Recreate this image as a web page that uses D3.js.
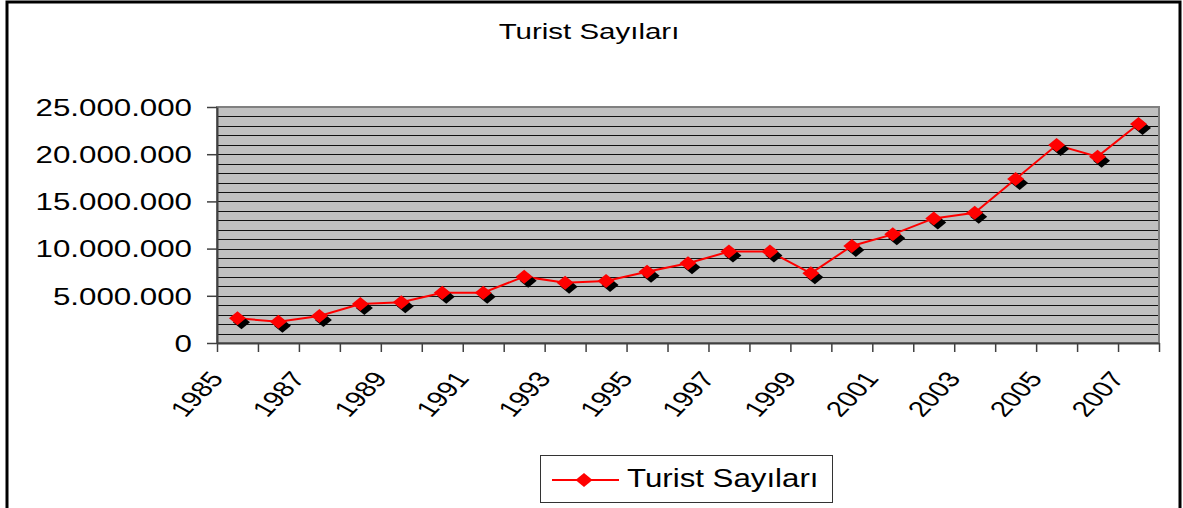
<!DOCTYPE html>
<html>
<head>
<meta charset="utf-8">
<script src="https://cdn.jsdelivr.net/npm/d3@7"></script>
<style>
  body { margin: 0; background: #fff; }
  svg { display: block; }
  text { font-family: "Liberation Sans", Arial, sans-serif; fill: #000; }
</style>
</head>
<body>
<svg width="1183" height="508"></svg>
<script>
// Chart data
var years = d3.range(1985, 2008);
var tourists = [2620000, 2260000, 2860000, 4130000, 4310000, 5330000, 5330000,
    7030000, 6390000, 6570000, 7550000, 8440000, 9680000, 9680000, 7380000,
    10280000, 11510000, 13200000, 13800000, 17370000, 20970000, 19740000, 23200000];
var yTicks = [0, 5000000, 10000000, 15000000, 20000000, 25000000];
var labelYears = years.filter(function (d) { return (d - 1985) % 2 === 0; });
var seriesName = "Turist Sayıları";
var titleText = "Turist Sayıları";

// Layout
var plotLeft = 217, plotRight = 1159, plotTop = 107, plotBottom = 343;
var stretch = 1.34;

var svg = d3.select("svg");

// outer frame (bottom is cut off in the original)
svg.append("path")
    .attr("d", "M 7,508 L 7,2 L 1180,2 L 1180,508")
    .attr("fill", "none")
    .attr("stroke", "#000")
    .attr("stroke-width", 3);

svg.append("text")
    .attr("transform", "translate(589,39) scale(" + stretch + ",1)")
    .attr("text-anchor", "middle")
    .attr("font-size", "22px")
    .text(titleText);

var x = d3.scaleBand()
    .domain(years)
    .range([plotLeft, plotRight]);

var xEdge = d3.scaleLinear()
    .domain([0, years.length])
    .range([plotLeft, plotRight]);

var y = d3.scaleLinear()
    .domain([0, 25000000])
    .range([plotBottom, plotTop]);

var fmt = d3.formatLocale({ decimal: ",", thousands: ".", grouping: [3], currency: ["", ""] }).format(",");

// plot background
svg.append("rect")
    .attr("x", plotLeft)
    .attr("y", plotTop)
    .attr("width", plotRight - plotLeft)
    .attr("height", plotBottom - plotTop)
    .attr("fill", "#c0c0c0");

// gridlines every 1.000.000
svg.append("g")
    .selectAll("line")
    .data(d3.range(1000000, 25000000, 1000000))
    .enter()
    .append("line")
    .attr("x1", plotLeft)
    .attr("x2", plotRight)
    .attr("y1", function (d) { return Math.round(y(d)) + 0.5; })
    .attr("y2", function (d) { return Math.round(y(d)) + 0.5; })
    .attr("stroke", "#111")
    .attr("stroke-width", 1);

// plot border
svg.append("rect")
    .attr("x", plotLeft)
    .attr("y", plotTop)
    .attr("width", plotRight - plotLeft)
    .attr("height", plotBottom - plotTop)
    .attr("fill", "none")
    .attr("stroke", "#808080")
    .attr("stroke-width", 2);

// y axis
var yAxis = svg.append("g")
    .attr("transform", "translate(" + plotLeft + ",0)")
    .call(d3.axisLeft(y).tickValues(yTicks).tickSize(10).tickSizeOuter(0).tickFormat(fmt));
yAxis.select(".domain").attr("stroke", "#404040").attr("stroke-width", 2);
yAxis.selectAll(".tick line").attr("stroke", "#404040").attr("stroke-width", 1.5);
yAxis.selectAll(".tick text")
    .attr("x", null)
    .attr("dy", "0.36em")
    .attr("transform", "translate(-25,0) scale(1.36,1)")
    .attr("font-size", "23px")
    .attr("font-family", "Liberation Sans, Arial, sans-serif")
    .attr("fill", "#000");

// x axis: ticks at category edges
var xAxis = svg.append("g")
    .attr("transform", "translate(0," + plotBottom + ")")
    .call(d3.axisBottom(xEdge).tickValues(d3.range(years.length + 1)).tickSize(9).tickSizeOuter(0).tickFormat(""));
xAxis.select(".domain").attr("stroke", "#404040").attr("stroke-width", 2);
xAxis.selectAll(".tick line").attr("stroke", "#404040").attr("stroke-width", 1.5);

// rotated year labels
svg.append("g")
    .selectAll("text")
    .data(labelYears)
    .enter()
    .append("text")
    .attr("text-anchor", "end")
    .attr("font-size", "22px")
    .attr("transform", function (d) {
        var cx = x(d) + x.bandwidth() / 2 - 13;
        return "translate(" + cx + ",379) scale(" + stretch + ",1) rotate(-53.3)";
    })
    .text(function (d) { return d; });

// series
var diamond = function (cx, cy) {
    return "M" + cx + "," + (cy - 7) + " L" + (cx + 8.5) + "," + cy +
        " L" + cx + "," + (cy + 7) + " L" + (cx - 8.5) + "," + cy + " Z";
};

var pts = years.map(function (d, i) {
    return { year: d, value: tourists[i], cx: x(d) + x.bandwidth() / 2, cy: y(tourists[i]) };
});

svg.append("path")
    .datum(pts)
    .attr("fill", "none")
    .attr("stroke", "#ff0000")
    .attr("stroke-width", 2)
    .attr("d", d3.line().x(function (d) { return d.cx; }).y(function (d) { return d.cy; }));

svg.append("g")
    .selectAll("path")
    .data(pts)
    .enter()
    .append("path")
    .attr("d", function (d) { return diamond(d.cx + 4, d.cy + 4); })
    .attr("fill", "#000");

svg.append("g")
    .selectAll("path")
    .data(pts)
    .enter()
    .append("path")
    .attr("d", function (d) { return diamond(d.cx, d.cy); })
    .attr("fill", "#ff0000");

// legend
var legend = svg.append("g");
legend.append("rect")
    .attr("x", 540.5)
    .attr("y", 455.5)
    .attr("width", 292)
    .attr("height", 47)
    .attr("fill", "#fff")
    .attr("stroke", "#333")
    .attr("stroke-width", 1);
legend.append("line")
    .attr("x1", 552).attr("x2", 619)
    .attr("y1", 480).attr("y2", 480)
    .attr("stroke", "#ff0000")
    .attr("stroke-width", 2);
legend.append("path")
    .attr("d", diamond(584, 480))
    .attr("fill", "#ff0000");
legend.append("text")
    .attr("transform", "translate(627,487) scale(1.25,1)")
    .attr("font-size", "25px")
    .text(seriesName);
</script>
</body>
</html>
